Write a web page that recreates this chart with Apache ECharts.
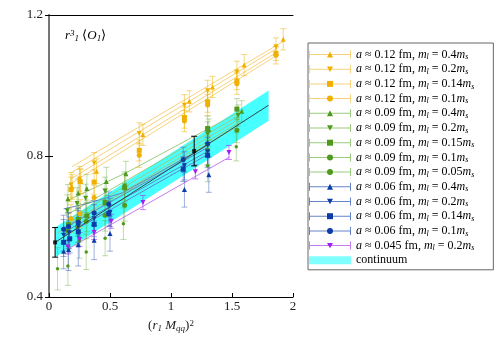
<!DOCTYPE html>
<html>
<head>
<meta charset="utf-8">
<script src="https://cdn.jsdelivr.net/npm/echarts@6/dist/echarts.min.js"></script>
<style>html,body{margin:0;background:#fff}#main{width:500px;height:350px}</style>
</head>
<body>
<div id="main"></div>
<script>
// points are [x, y, error]
var o12_04  = [[0.19,0.712,0.035],[0.26,0.728,0.035],[0.39,0.757,0.035],[0.77,0.860,0.03],[1.15,0.955,0.03],[1.34,0.996,0.03],[1.60,1.058,0.03],[1.92,1.131,0.03]];
var o12_02  = [[0.18,0.718,0.035],[0.25,0.735,0.035],[0.37,0.780,0.03],[0.74,0.864,0.03],[1.11,0.944,0.03],[1.30,0.985,0.03],[1.54,1.039,0.03],[1.86,1.110,0.025]];
var o12_014 = [[0.18,0.705,0.035],[0.255,0.728,0.035],[0.37,0.726,0.035],[0.74,0.816,0.03],[1.11,0.909,0.03],[1.30,0.954,0.03],[1.54,1.013,0.025],[1.86,1.091,0.02]];
var o12_01  = [[0.18,0.622,0.04],[0.255,0.636,0.04],[0.37,0.682,0.035],[0.74,0.802,0.035],[1.11,0.899,0.03],[1.30,0.945,0.03],[1.54,1.005,0.03],[1.86,1.086,0.025]];
var g09_04  = [[0.155,0.679,0.04],[0.24,0.695,0.04],[0.31,0.708,0.04],[0.47,0.728,0.04],[0.63,0.750,0.035],[1.31,0.875,0.03],[1.58,0.927,0.03]];
var g09_02  = [[0.15,0.645,0.045],[0.23,0.665,0.045],[0.30,0.680,0.04],[0.46,0.700,0.04],[0.62,0.715,0.04],[1.30,0.862,0.035],[1.55,0.915,0.03]];
var g09_015 = [[0.16,0.605,0.045],[0.24,0.620,0.045],[0.31,0.630,0.045],[0.46,0.668,0.04],[0.62,0.710,0.04],[1.30,0.878,0.035],[1.54,0.933,0.03]];
var g09_01  = [[0.155,0.587,0.05],[0.235,0.600,0.05],[0.305,0.615,0.05],[0.46,0.632,0.045],[0.62,0.660,0.045],[1.30,0.816,0.04],[1.54,0.873,0.035]];
var g09_005 = [[0.07,0.480,0.06],[0.155,0.488,0.055],[0.25,0.560,0.05],[0.305,0.528,0.05],[0.46,0.567,0.05],[0.61,0.608,0.045],[1.30,0.772,0.045],[1.535,0.826,0.04]];
var b06_04  = [[0.12,0.530,0.05],[0.16,0.535,0.06],[0.24,0.548,0.06],[0.37,0.561,0.055],[0.50,0.580,0.05],[1.11,0.705,0.05],[1.31,0.747,0.05]];
var b06_02  = [[0.12,0.575,0.045],[0.165,0.582,0.045],[0.24,0.600,0.045],[0.37,0.622,0.04],[0.50,0.640,0.04],[1.11,0.772,0.04],[1.30,0.812,0.04]];
var b06_014 = [[0.12,0.555,0.04],[0.17,0.565,0.04],[0.24,0.585,0.04],[0.37,0.606,0.035],[0.49,0.637,0.035],[1.10,0.763,0.035],[1.30,0.802,0.035]];
var b06_01  = [[0.12,0.592,0.04],[0.16,0.600,0.04],[0.24,0.612,0.04],[0.37,0.638,0.035],[0.49,0.663,0.035],[1.10,0.790,0.035],[1.30,0.835,0.035]];
var p045_02 = [[0.155,0.542,0.02],[0.25,0.563,0.02],[0.37,0.583,0.02],[0.51,0.615,0.02],[0.77,0.668,0.02],[1.20,0.755,0.02],[1.475,0.810,0.02]];

// fit curves [x, y]
var o12_04_fit  = [[0.19,0.770],[1.92,1.125]];
var o12_02_fit  = [[0.18,0.752],[1.88,1.108]];
var o12_014_fit = [[0.18,0.735],[1.88,1.097]];
var o12_01_fit  = [[0.18,0.722],[1.88,1.088]];
var g09_04_fit  = [[0.14,0.672],[0.63,0.752],[1.60,0.932]];
var g09_02_fit  = [[0.14,0.632],[1.56,0.915]];
var g09_015_fit = [[0.14,0.615],[1.56,0.905]];
var g09_01_fit  = [[0.14,0.602],[1.56,0.895]];
var g09_005_fit = [[0.07,0.582],[1.55,0.885]];
var b06_04_fit  = [[0.12,0.650],[0.30,0.664],[0.60,0.695],[1.31,0.832]];
var b06_02_fit  = [[0.12,0.595],[1.31,0.826]];
var b06_014_fit = [[0.12,0.583],[1.31,0.815]];
var b06_01_fit  = [[0.12,0.572],[1.31,0.806]];
var p045_02_fit = [[0.15,0.535],[1.48,0.797]];

// continuum extrapolation
var contPts  = [[0.05,0.555,0.042],[1.19,0.814,0.042]];
var contLine = [[0.05,0.555],[1.80,0.944]];
var bandX  = [0.05, 0.5, 1.0, 1.8];
var bandLo = [0.513, 0.612, 0.722, 0.900];
var bandHi = [0.597, 0.698, 0.808, 0.986];

var xTicks = [0, 0.5, 1, 1.5, 2];
var yTicks = [0.4, 0.8, 1.2];

var F = 'Liberation Serif';
var DOWN = 'path://M0 0L10 0L5 9Z';
var fam = {
  o: {mark: '#f0b000', line: '#f8d27a', err: 'rgba(240,180,0,0.5)'},
  g: {mark: '#4f9a1c', line: '#9ccb80', err: 'rgba(90,160,40,0.38)'},
  b: {mark: '#0c3ca8', line: '#6584c8', err: 'rgba(40,80,180,0.45)'},
  p: {mark: '#a020f0', line: '#c47cf2', err: 'rgba(160,32,240,0.55)'}
};
var sets = [
  ['o12_04', 'o', o12_04, o12_04_fit, 'triangle', 5, '0.12', '0.4'],
  ['o12_02', 'o', o12_02, o12_02_fit, DOWN, 5, '0.12', '0.2'],
  ['o12_014', 'o', o12_014, o12_014_fit, 'rect', 5, '0.12', '0.14'],
  ['o12_01', 'o', o12_01, o12_01_fit, 'circle', 5, '0.12', '0.1'],
  ['g09_04', 'g', g09_04, g09_04_fit, 'triangle', 5, '0.09', '0.4'],
  ['g09_02', 'g', g09_02, g09_02_fit, DOWN, 5, '0.09', '0.2'],
  ['g09_015', 'g', g09_015, g09_015_fit, 'rect', 5, '0.09', '0.15'],
  ['g09_01', 'g', g09_01, g09_01_fit, 'circle', 5, '0.09', '0.1'],
  ['g09_005', 'g', g09_005, g09_005_fit, 'circle', 3.5, '0.09', '0.05'],
  ['b06_04', 'b', b06_04, b06_04_fit, 'triangle', 5, '0.06', '0.4'],
  ['b06_02', 'b', b06_02, b06_02_fit, DOWN, 5, '0.06', '0.2'],
  ['b06_014', 'b', b06_014, b06_014_fit, 'rect', 5, '0.06', '0.14'],
  ['b06_01', 'b', b06_01, b06_01_fit, 'circle', 5, '0.06', '0.1'],
  ['p045_02', 'p', p045_02, p045_02_fit, DOWN, 5, '0.045', '0.2']
];

var labelOf = {};
sets.forEach(function (s) {
  labelOf[s[0]] = '{i|a} ≈ ' + s[6] + ' fm, {i|m}{sub|l} = ' + s[7] + '{i|m}{sub|s}';
});
labelOf['continuum'] = 'continuum';

function errorBar(params, api) {
  var x = api.value(0), y = api.value(1), e = api.value(2);
  var top = api.coord([x, y + e]), bot = api.coord([x, y - e]);
  var w = 3;
  var st = {stroke: api.visual('color'), lineWidth: 1};
  return {type: 'group', children: [
    {type: 'line', shape: {x1: top[0], y1: top[1], x2: bot[0], y2: bot[1]}, style: st},
    {type: 'line', shape: {x1: top[0] - w, y1: top[1], x2: top[0] + w, y2: top[1]}, style: st},
    {type: 'line', shape: {x1: bot[0] - w, y1: bot[1], x2: bot[0] + w, y2: bot[1]}, style: st}
  ]};
}

function bandShape(params, api) {
  if (params.dataIndex !== 0) return null;
  var pts = [];
  for (var i = 0; i < bandX.length; i++) pts.push(api.coord([bandX[i], bandHi[i]]));
  for (var j = bandX.length - 1; j >= 0; j--) pts.push(api.coord([bandX[j], bandLo[j]]));
  return {type: 'polygon', shape: {points: pts}, style: {fill: 'rgba(0,255,255,0.72)'}};
}

var series = [{
  name: 'continuum', type: 'custom', renderItem: bandShape, z: 1, silent: true,
  itemStyle: {color: '#80ffff'},
  data: bandX.map(function (x, i) { return [x, bandLo[i], bandHi[i]]; }),
  encode: {x: 0, y: [1, 2]}
}];

sets.forEach(function (s) {
  var c = fam[s[1]];
  series.push({
    name: s[0], type: 'line', data: s[3], showSymbol: false, silent: true, z: 2,
    lineStyle: {color: c.line, width: 1}, itemStyle: {color: c.line}
  });
  series.push({
    name: s[0], type: 'custom', renderItem: errorBar, data: s[2], z: 3, silent: true,
    itemStyle: {color: c.err}, encode: {x: 0, y: 1}
  });
  series.push({
    name: s[0], type: 'scatter', data: s[2], symbol: s[4], symbolSize: s[5], z: 4,
    itemStyle: {color: c.mark, opacity: 1}, encode: {x: 0, y: 1}
  });
});

series.push({type: 'line', data: contLine, showSymbol: false, silent: true, z: 5,
  lineStyle: {color: '#2a4a4a', width: 1}});
series.push({type: 'custom', renderItem: errorBar, data: contPts, z: 6, silent: true,
  itemStyle: {color: '#000'}, encode: {x: 0, y: 1}});
series.push({type: 'scatter', data: contPts, symbol: 'rect', symbolSize: 4, z: 7,
  itemStyle: {color: '#000'}, encode: {x: 0, y: 1}});

var rich = {
  i: {fontFamily: F, fontSize: 12, fontStyle: 'italic', lineHeight: 13},
  sub: {fontFamily: F, fontSize: 8, fontStyle: 'italic', verticalAlign: 'bottom', padding: [3, 0, 0, 0]}
};
function legendRich(color) {
  return {
    i: Object.assign({color: color}, rich.i),
    sub: Object.assign({color: color}, rich.sub)
  };
}
var LINE_ICON = 'path://M0 0h1v8h-1z M1 3.5h40v1h-40z M41 0h1v8h-1z';

var legendLines = sets.map(function (s) {
  return {name: s[0], icon: LINE_ICON, itemStyle: {color: fam[s[1]].line}};
});
legendLines.push({name: 'continuum', icon: 'rect', itemStyle: {color: '#80ffff'}});
var legendMarks = sets.map(function (s) {
  return {name: s[0], icon: s[4], itemStyle: {color: fam[s[1]].mark}};
});

var option = {
  animation: false,
  backgroundColor: '#fff',
  title: {
    text: '{i|r}{sup|3}{sub|1} ⟨{i|O}{sub|1}⟩',
    left: 60, top: 24,
    textStyle: {fontFamily: F, fontSize: 13, fontWeight: 'normal', color: '#000', rich: {
      i: {fontFamily: F, fontSize: 13, fontStyle: 'italic', color: '#000', lineHeight: 14},
      sub: {fontFamily: F, fontSize: 9, fontStyle: 'italic', color: '#000', verticalAlign: 'bottom', padding: [4, 0, 0, 0]},
      sup: {fontFamily: F, fontSize: 9, fontStyle: 'italic', color: '#000', verticalAlign: 'top'}
    }}
  },
  grid: {left: 49, right: 207, top: 15, bottom: 53},
  legend: [{
    orient: 'vertical', left: 308, top: 43, padding: [5, 19, 3, 1], itemGap: 1.7,
    itemWidth: 42, itemHeight: 8, selectedMode: false,
    borderColor: '#666', borderWidth: 1, data: legendLines,
    formatter: function (n) { return labelOf[n]; },
    textStyle: {fontFamily: F, fontSize: 12, color: '#000', lineHeight: 13, rich: legendRich('#000')}
  }, {
    orient: 'vertical', left: 326, top: 43, padding: [5, 19, 3, 1], itemGap: 1.7,
    itemWidth: 6, itemHeight: 6, selectedMode: false, data: legendMarks,
    formatter: function (n) { return labelOf[n]; },
    textStyle: {fontFamily: F, fontSize: 12, color: 'transparent', lineHeight: 13, rich: legendRich('transparent')}
  }],
  xAxis: [{
    type: 'value', min: xTicks[0], max: xTicks[xTicks.length - 1], interval: 0.5,
    splitLine: {show: false},
    axisLine: {lineStyle: {color: '#000', width: 1}},
    axisTick: {inside: true, length: 4, lineStyle: {color: '#000'}},
    axisLabel: {fontFamily: F, fontSize: 13, color: '#222', margin: 3},
    name: '({i|r}{sub|1} {i|M}{sub|qq}){sup|2}', nameLocation: 'middle', nameGap: 22,
    nameTextStyle: {fontFamily: F, fontSize: 13, color: '#222', rich: {
      i: {fontFamily: F, fontSize: 13, fontStyle: 'italic', color: '#222', lineHeight: 14},
      sub: {fontFamily: F, fontSize: 9, fontStyle: 'italic', color: '#222', verticalAlign: 'bottom', padding: [4, 0, 0, 0]},
      sup: {fontFamily: F, fontSize: 9, color: '#222', verticalAlign: 'top'}
    }}
  }, {
    type: 'value', position: 'top', min: 0, max: 2, interval: 0.5,
    splitLine: {show: false}, axisTick: {show: false}, axisLabel: {show: false},
    axisLine: {lineStyle: {color: '#000', width: 1}}
  }],
  yAxis: [{
    type: 'value', min: yTicks[0], max: yTicks[yTicks.length - 1], interval: 0.4,
    splitLine: {show: false},
    axisLine: {show: true, lineStyle: {color: '#000', width: 1}},
    axisTick: {show: true, inside: true, length: 4, lineStyle: {color: '#000'}},
    axisLabel: {fontFamily: F, fontSize: 13, color: '#222', margin: 6}
  }, {
    type: 'value', position: 'right', min: 0.4, max: 1.2, interval: 0.4,
    splitLine: {show: false}, axisLabel: {show: false},
    axisLine: {show: true, lineStyle: {color: '#777', width: 2}},
    axisTick: {show: true, inside: true, length: 4, lineStyle: {color: '#000'}}
  }],
  series: series
};

var chart = echarts.init(document.getElementById('main'));
chart.setOption(option);
</script>
</body>
</html>
